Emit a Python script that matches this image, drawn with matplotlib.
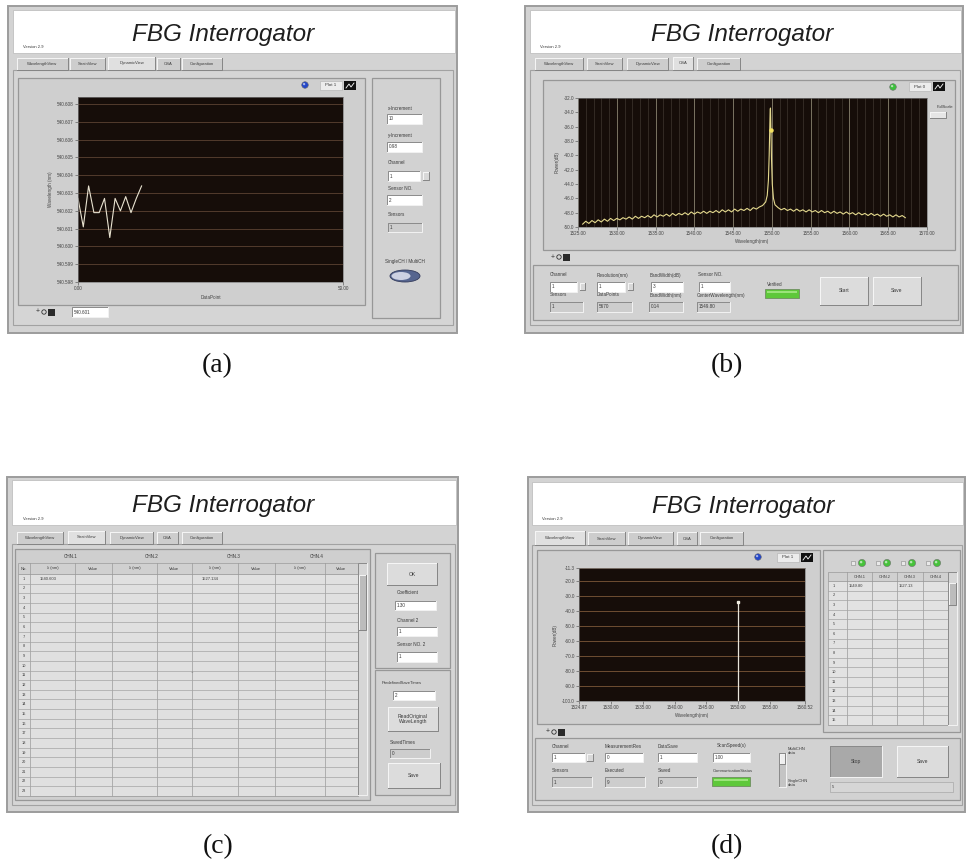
# Four screenshots of the FBG Interrogator front panel, redrawn with matplotlib

import matplotlib
matplotlib.use('Agg')
import matplotlib.pyplot as plt
from matplotlib.patches import Rectangle, Ellipse, Circle
import numpy as np

plt.rcParams['font.family'] = ['Liberation Sans', 'DejaVu Sans']

W, H = 967, 864

tab_names = ['WavelengthView', 'StrainView', 'DynamicView', 'OSA', 'Configuration']

# (a) DynamicView - wavelength of one sensor against data point
dyn_points = [0, 1, 2, 3, 4, 5, 6, 7, 8, 9, 10, 11, 12]
dyn_wavelength = [540.6027, 540.6011, 540.6034, 540.6019, 540.6019, 540.6027, 540.6005,
                  540.6027, 540.6020, 540.6028, 540.6019, 540.6027, 540.6034]
dyn_yticks = [540.598, 540.599, 540.600, 540.601, 540.602, 540.603, 540.604,
              540.605, 540.606, 540.607, 540.608]
dyn_xticks = [0, 50]

# (b) OSA - spectrum, read left side / peak / right side
osa_left_start = 1525.6
osa_left_power = [-49.6, -49.2, -49.5, -49.1, -49.4, -49.0, -49.3, -48.9, -49.2, -48.8,
                  -49.1, -48.8, -49.0, -48.7, -48.9, -48.6, -48.9, -48.5, -48.8, -48.5,
                  -48.7, -48.4, -48.7, -48.3, -48.6, -48.3, -48.5, -48.2, -48.5, -48.1,
                  -48.4, -48.1, -48.3, -48.0, -48.3, -47.9, -48.2, -47.9, -48.1, -47.8,
                  -48.1, -47.8, -48.0, -47.7, -48.0, -47.6, -47.9, -47.6, -47.9, -47.5,
                  -47.8, -47.5, -47.7, -47.4, -47.7, -47.3, -47.5, -47.2, -47.0, -46.5]
osa_peak_wl = [1549.40, 1549.55, 1549.65, 1549.72, 1549.78, 1549.82, 1549.88, 1549.95,
               1550.05, 1550.20, 1550.40]
osa_peak_power = [-45.6, -43.5, -40.0, -36.5, -33.6, -33.4, -36.5, -40.5, -44.0, -46.0, -46.9]
osa_right_start = 1550.8
osa_right_power = [-47.3, -47.6, -47.4, -47.7, -47.5, -47.8, -47.5, -47.8, -47.6, -47.9,
                   -47.6, -47.9, -47.7, -48.0, -47.7, -48.0, -47.8, -48.1, -47.8, -48.1,
                   -47.9, -48.2, -47.9, -48.2, -48.0, -48.3, -48.0, -48.3, -48.1, -48.4,
                   -48.1, -48.4, -48.2, -48.5, -48.2, -48.5, -48.3, -48.6, -48.3, -48.6,
                   -48.4, -48.7]
osa_step = 0.4
osa_cursor_wl = [1549.85]
osa_cursor_power = [-36.5]
osa_xticks = [1525, 1530, 1535, 1540, 1545, 1550, 1555, 1560, 1565, 1570]
osa_yticks = [-32, -34, -36, -38, -40, -42, -44, -46, -48, -50]

# (c) StrainView table
strain_channels = ['CHN.1', 'CHN.2', 'CHN.3', 'CHN.4']
strain_row1 = ['1540.603', '', '', '', '1527.134', '', '', '']
strain_nrows = 23

# (d) WavelengthView - detected peaks
wl_peak = [1550.0]
wl_peak_power = [-33.9]
wl_xticks = [1524.97, 1530, 1535, 1540, 1545, 1550, 1555, 1560.52]
wl_yticks = [-11.3, -20, -30, -40, -50, -60, -70, -80, -90, -100]
wl_table_row1 = ['1549.80', '', '1527.13', '']
wl_nrows = 15

fig = plt.figure(figsize=(W / 100, H / 100), dpi=100)
bg = fig.add_axes([0, 0, 1, 1])
bg.set_xlim(0, W)
bg.set_ylim(H, 0)
bg.axis('off')


def box(x0, y0, x1, y1, fc, ec='none', lw=0.6, z=1):
    bg.add_patch(Rectangle((x0, y0), x1 - x0, y1 - y0, facecolor=fc, edgecolor=ec,
                           linewidth=lw, zorder=z))


def bevel(x0, y0, x1, y1, fc, raised=True, z=2):
    box(x0, y0, x1, y1, fc, z=z)
    a, b = ('#f6f6f6', '#858585') if raised else ('#8a8a8a', '#f2f2f2')
    bg.plot([x0, x0, x1], [y1, y0, y0], color=a, lw=0.7, zorder=z + 0.1)
    bg.plot([x0, x1, x1], [y1, y1, y0], color=b, lw=0.7, zorder=z + 0.1)


def label(x, y, s, size=3.3, ha='left', color='#3a3a3a', **kw):
    bg.text(x, y, s, fontsize=size, ha=ha, va='center', color=color, zorder=6, **kw)


def field(x0, y0, x1, y1, s, fc='white'):
    bevel(x0, y0, x1, y1, fc, raised=False, z=3)
    label(x0 + 1.5, (y0 + y1) / 2, s)


def button(x0, y0, x1, y1, s, fc='#dcdcdc', raised=True):
    bevel(x0, y0, x1, y1, fc, raised=raised, z=3)
    label((x0 + x1) / 2, (y0 + y1) / 2, s, ha='center', size=3.6)


def led(x, y, color, r=3.3):
    bg.add_patch(Circle((x, y), r, facecolor=color, edgecolor='#707070', lw=0.4, zorder=4))
    bg.add_patch(Circle((x - 0.9, y - 0.9), r * 0.35, facecolor='white', alpha=0.6,
                        edgecolor='none', zorder=4.1))


def green_bar(x0, y0, x1, y1):
    box(x0, y0, x1, y1, '#5ec83a', ec='#6f8f60', lw=0.6, z=3)
    box(x0 + 2, y0 + 2, x1 - 2, y0 + 4, '#9be37a', z=3.1)


def palette(x, y):
    label(x, y, '+', size=5, color='#333')
    bg.add_patch(Circle((x + 8, y), 2.2, facecolor='none', edgecolor='#333', lw=0.6, zorder=6))
    box(x + 12, y - 3.5, x + 19, y + 3.5, '#2a2a2a', z=6)


def legend_plot(x0, y0, name):
    box(x0, y0, x0 + 22, y0 + 9, '#ececec', ec='#b0b0b0', lw=0.4, z=3)
    label(x0 + 11, y0 + 4.5, name, ha='center', size=3.2)
    box(x0 + 24, y0, x0 + 36, y0 + 9, '#101010', z=3)
    bg.plot([x0 + 26, x0 + 29, x0 + 31, x0 + 34], [y0 + 7, y0 + 3, y0 + 6, y0 + 2],
            color='white', lw=0.6, zorder=3.2)


def window(x0, y0, x1, y1, tx0, ty0, ty1, title_cx, ver_x, tabs_y, tab_x, sel):
    box(x0, y0, x1, y1, '#d3d3d3', ec='#9c9c9c', lw=1.4, z=1)
    box(tx0, ty0, x1 - 2, ty1, 'white', ec='#c0c0c0', lw=0.6, z=1.5)
    bg.text(title_cx, (ty0 + ty1) / 2 + 3, 'FBG Interrogator', fontsize=17.5, style='italic',
            color='#1e1e1e', ha='center', va='center', zorder=6)
    label(ver_x, ty1 - 6, 'Version 2.9', size=3.0)
    for i, (a, b) in enumerate(tab_x):
        top = tabs_y[0] - (1.5 if i == sel else 0)
        bevel(a, top, b, tabs_y[1], '#e0e0e0' if i == sel else '#cdcdcd', z=2)
        label((a + b) / 2, (top + tabs_y[1]) / 2, tab_names[i], size=3.0, ha='center')


def plot_axes(x0, y0, x1, y1):
    ax = fig.add_axes([x0 / W, 1 - y1 / H, (x1 - x0) / W, (y1 - y0) / H])
    ax.set_facecolor('#160d09')
    for s in ax.spines.values():
        s.set_color('#7a7a7a')
        s.set_linewidth(0.5)
    ax.tick_params(labelsize=3.3, colors='#444444', length=2, width=0.4, pad=1)
    return ax


# ---------------- (a) DynamicView ----------------
window(8, 6, 457, 333, 13, 10, 53, 223, 23, (58, 70),
       [(17, 68), (70, 105), (108, 155), (157, 180), (182, 222)], 2)
box(13, 70, 453, 325, '#d5d5d5', ec='#a2a2a2', lw=0.8, z=1.6)
box(18, 78, 365, 305, '#cfcfcf', ec='#979797', lw=0.9, z=1.7)
box(372, 78, 440, 318, '#d2d2d2', ec='#979797', lw=0.9, z=1.7)
led(305, 85, '#2447c8')
legend_plot(320, 81, 'Plot 1')

ax = plot_axes(78, 97, 343, 282)
ax.plot(dyn_points, dyn_wavelength, color='#e8e2d0', lw=0.8)
ax.set_xlim(0, 50)
ax.set_ylim(540.5983, 540.6084)
ax.set_yticks(dyn_yticks)
ax.set_yticklabels(['%.3f' % v for v in dyn_yticks])
ax.set_xticks(dyn_xticks)
ax.set_xticklabels(['%.2f' % v for v in dyn_xticks])
ax.yaxis.grid(True, color='#5c4232', lw=0.6)
ax.set_axisbelow(True)
ax.set_xlabel('DataPoint', fontsize=3.3, color='#444', labelpad=3)
ax.set_ylabel('Wavelength (nm)', fontsize=3.3, color='#444', labelpad=3)

palette(36, 312)
field(72, 307, 108, 317, '540.601')

label(388, 108, 'x-Increment')
field(387, 114, 422, 124, '10')
label(388, 136, 'y-Increment')
field(387, 142, 422, 152, '0.98')
label(388, 163, 'Channel')
field(388, 171, 420, 181, '1')
bevel(423, 172, 429, 180, '#d8d8d8', z=3)
label(388, 188, 'Sensor NO.')
field(387, 195, 422, 205, '2')
label(388, 215, 'Sensors')
field(388, 223, 422, 232, '1', fc='#cdcdcd')
label(405, 262, 'SingleCH / MultiCH', ha='center')
bg.add_patch(Ellipse((405, 276), 30, 12, facecolor='#56658f', edgecolor='#343c5c', lw=0.6, zorder=4))
bg.add_patch(Ellipse((401, 276), 19, 8, facecolor='#cdd1e2', edgecolor='none', zorder=4.1))

# ---------------- (b) OSA ----------------
window(525, 6, 963, 333, 530, 10, 53, 742, 540, (58, 70),
       [(535, 583), (587, 622), (627, 668), (673, 693), (697, 740)], 3)
box(530, 70, 960, 325, '#d5d5d5', ec='#a2a2a2', lw=0.8, z=1.6)
box(543, 80, 955, 250, '#cfcfcf', ec='#979797', lw=0.9, z=1.7)
box(533, 265, 958, 320, '#d2d2d2', ec='#979797', lw=0.9, z=1.7)
led(893, 87, '#3cc03c')
legend_plot(909, 82, 'Plot 0')
label(937, 107, 'FullScale', size=3.0)
bevel(930, 112, 946, 118, '#e6e6e6', z=3)

ax = plot_axes(578, 98, 927, 227)
left_wl = osa_left_start + osa_step * np.arange(len(osa_left_power))
right_wl = osa_right_start + osa_step * np.arange(len(osa_right_power))
spec_wl = np.concatenate([left_wl, osa_peak_wl, right_wl])
spec_pw = np.concatenate([osa_left_power, osa_peak_power, osa_right_power])
ax.plot(spec_wl, spec_pw, color='#e4d98e', lw=0.8)
ax.plot(osa_cursor_wl, osa_cursor_power, marker='o', ms=2.2, color='#f2e060', ls='none')
ax.set_xlim(1525, 1570)
ax.set_ylim(-50, -32)
ax.set_xticks(osa_xticks)
ax.set_xticklabels(['%.2f' % v for v in osa_xticks])
ax.set_yticks(osa_yticks)
ax.set_yticklabels(['%.1f' % v for v in osa_yticks])
ax.set_xticks(np.arange(1525, 1571, 1), minor=True)
ax.tick_params(which='minor', length=0)
ax.xaxis.grid(True, which='minor', color='#4a4038', lw=0.4)
ax.xaxis.grid(True, which='major', color='#8a8470', lw=0.6)
ax.set_axisbelow(True)
ax.set_xlabel('Wavelength(nm)', fontsize=3.3, color='#444', labelpad=2)
ax.set_ylabel('Power(dB)', fontsize=3.3, color='#444', labelpad=3)

palette(551, 257)

label(550, 275, 'Channel')
field(550, 282, 577, 292, '1')
bevel(580, 283, 585, 290, '#d8d8d8', z=3)
label(550, 295, 'Sensors')
field(550, 302, 583, 312, '1', fc='#cdcdcd')
label(597, 275, 'Resolution(nm)')
field(597, 282, 625, 292, '1')
bevel(628, 283, 633, 290, '#d8d8d8', z=3)
label(597, 295, 'DataPoints')
field(597, 302, 632, 312, '5670', fc='#cdcdcd')
label(650, 275, 'BandWidth(dB)')
field(651, 282, 683, 292, '3')
label(650, 295, 'BandWidth(nm)')
field(649, 302, 683, 312, '0.14', fc='#cdcdcd')
label(698, 275, 'Sensor NO.')
field(699, 282, 730, 292, '1')
label(697, 295, 'CenterWavelength(nm)')
field(697, 302, 730, 312, '1549.80', fc='#cdcdcd')
label(767, 284, 'Verified')
green_bar(765, 289, 799, 298)
button(820, 277, 868, 305, 'Start')
button(873, 277, 921, 305, 'Save')

# ---------------- (c) StrainView ----------------
window(7, 477, 458, 812, 12, 480, 525, 223, 23, (532, 544),
       [(17, 63), (68, 105), (110, 153), (157, 178), (182, 222)], 1)
box(12, 544, 455, 805, '#d5d5d5', ec='#a2a2a2', lw=0.8, z=1.6)
box(15, 549, 370, 800, '#cfcfcf', ec='#979797', lw=0.9, z=1.7)

cols = [18, 30, 75, 112, 157, 192, 238, 275, 325, 358]
row_top, row_h = 574, 9.65
box(18, 563, 358, 574, '#d0d0d0', ec='#9a9a9a', lw=0.5, z=2)
box(18, row_top, 358, row_top + row_h * strain_nrows, '#e0e0e0', ec='#9a9a9a', lw=0.5, z=2)
for i, ch in enumerate(strain_channels):
    label((cols[1 + 2 * i] + cols[3 + 2 * i]) / 2, 557, ch, ha='center')
heads = ['No.'] + ['λ (nm)', 'Value'] * 4
for i, hd in enumerate(heads):
    label((cols[i] + cols[i + 1]) / 2, 568.5, hd, ha='center', size=3.0)
for c in cols[1:-1]:
    bg.plot([c, c], [563, row_top + row_h * strain_nrows], color='#9a9a9a', lw=0.5, zorder=2.5)
for r in range(strain_nrows):
    y = row_top + row_h * (r + 1)
    bg.plot([18, 358], [y, y], color='#a4a4a4', lw=0.5, zorder=2.5)
    label(24, y - row_h / 2, str(r + 1), ha='center', size=2.8)
for i, v in enumerate(strain_row1):
    if v:
        label(cols[i + 1] + 10, row_top + row_h / 2, v, size=3.0)
bevel(358, 563, 367, 795, '#d6d6d6', raised=False, z=2.6)
bevel(359, 575, 366, 630, '#bcbcbc', z=2.7)
label(192, 672, '+', ha='center', size=3, color='#777')

box(375, 553, 450, 668, '#d2d2d2', ec='#979797', lw=0.9, z=1.7)
button(387, 563, 437, 585, 'OK')
label(397, 593, 'Coefficient')
field(395, 601, 436, 610, '1.30')
label(397, 620, 'Channel 2')
field(397, 627, 437, 636, '1')
label(397, 645, 'Sensor NO. 2')
field(397, 652, 437, 662, '1')
box(375, 670, 450, 795, '#d2d2d2', ec='#979797', lw=0.9, z=1.7)
label(382, 683, 'PredefinedSaveTimes', size=3.0)
field(393, 691, 435, 700, '2')
button(388, 707, 438, 731, 'ReadOriginal\nWaveLength')
label(390, 743, 'SavedTimes')
field(390, 749, 430, 758, '0', fc='#cdcdcd')
button(388, 763, 440, 788, 'Save')

# ---------------- (d) WavelengthView ----------------
window(528, 477, 965, 812, 532, 482, 525, 743, 542, (532, 545),
       [(535, 585), (588, 625), (628, 673), (677, 697), (700, 743)], 0)
box(532, 545, 962, 805, '#d5d5d5', ec='#a2a2a2', lw=0.8, z=1.6)
box(537, 550, 820, 724, '#cfcfcf', ec='#979797', lw=0.9, z=1.7)
led(758, 557, '#2447c8')
legend_plot(777, 553, 'Plot 1')

ax = plot_axes(579, 568, 805, 701)
ax.vlines(wl_peak, -100, wl_peak_power, color='#e8e4da', lw=0.9)
ax.plot(wl_peak, wl_peak_power, marker='s', ms=1.8, color='#f0ece0', ls='none')
ax.set_xlim(wl_xticks[0], wl_xticks[-1])
ax.set_ylim(-100, -11.3)
ax.set_xticks(wl_xticks)
ax.set_xticklabels(['%.2f' % v for v in wl_xticks])
ax.set_yticks(wl_yticks)
ax.set_yticklabels(['%.1f' % v for v in wl_yticks])
ax.yaxis.grid(True, color='#7c5838', lw=0.6)
ax.set_axisbelow(True)
ax.set_xlabel('Wavelength(nm)', fontsize=3.3, color='#444', labelpad=2)
ax.set_ylabel('Power(dB)', fontsize=3.3, color='#444', labelpad=3)

palette(546, 732)

# peak table on the right
box(823, 550, 960, 732, '#d2d2d2', ec='#979797', lw=0.9, z=1.7)
for k, lx in enumerate([862, 887, 912, 937]):
    box(lx - 11, 561, lx - 7, 565, '#e8e8e8', ec='#8a8a8a', lw=0.4, z=3)
    led(lx, 563, '#46c23a', r=3.6)
tcols = [828, 847, 872, 897, 923, 948]
trow_top, trow_h = 581, 9.6
box(828, 572, 948, 581, '#d0d0d0', ec='#9a9a9a', lw=0.5, z=2)
box(828, trow_top, 948, trow_top + trow_h * wl_nrows, '#e2e2e2', ec='#9a9a9a', lw=0.5, z=2)
for i in range(4):
    label((tcols[i + 1] + tcols[i + 2]) / 2, 576.5, 'CHN.%d' % (i + 1), ha='center', size=2.8)
for c in tcols[1:-1]:
    bg.plot([c, c], [572, trow_top + trow_h * wl_nrows], color='#9a9a9a', lw=0.5, zorder=2.5)
for r in range(wl_nrows):
    y = trow_top + trow_h * (r + 1)
    bg.plot([828, 948], [y, y], color='#a4a4a4', lw=0.5, zorder=2.5)
    label(834, y - trow_h / 2, str(r + 1), ha='center', size=2.8)
for i, v in enumerate(wl_table_row1):
    if v:
        label(tcols[i + 1] + 2, trow_top + trow_h / 2, v, size=2.9)
bevel(948, 572, 957, 725, '#d6d6d6', raised=False, z=2.6)
bevel(949, 583, 956, 605, '#bcbcbc', z=2.7)

box(535, 738, 960, 800, '#d2d2d2', ec='#979797', lw=0.9, z=1.7)
label(552, 746, 'Channel')
field(552, 753, 585, 762, '1')
bevel(587, 754, 593, 761, '#d8d8d8', z=3)
label(605, 746, 'MeasurementRes')
field(605, 753, 643, 762, '0')
label(658, 746, 'DataSave')
field(658, 753, 697, 762, '1')
label(717, 746, 'ScanSpeed(s)')
field(713, 753, 750, 762, '1.00')
label(552, 771, 'Sensors')
field(552, 777, 592, 787, '1', fc='#cdcdcd')
label(605, 771, 'Executed')
field(605, 777, 645, 787, '9', fc='#cdcdcd')
label(658, 771, 'Saved')
field(658, 777, 697, 787, '0', fc='#cdcdcd')
label(713, 771, 'CommunicationStatus', size=3.0)
green_bar(712, 777, 750, 786)
bevel(779, 753, 786, 787, '#c4c4c4', raised=False, z=3)
bevel(780, 754, 785, 764, '#efefef', z=3.2)
label(788, 751, 'MultiCHN\ndata', size=3.0)
label(788, 783, 'SingleCHN\ndata', size=3.0)
button(830, 746, 882, 777, 'Stop', fc='#a9a9a9', raised=False)
button(897, 746, 948, 777, 'Save')
box(830, 782, 953, 792, '#d6d6d6', ec='#a8a8a8', lw=0.5, z=2)
label(832, 787, '5', size=3.0)

# sub-figure captions
for x, y, s in [(217, 366, '(a)'), (727, 366, '(b)'), (218, 847, '(c)'), (727, 847, '(d)')]:
    bg.text(x, y, s, fontsize=20, family='Liberation Serif', ha='center', va='center',
            color='#111111', zorder=6)

fig.savefig('out.png', dpi=100, facecolor='white')
